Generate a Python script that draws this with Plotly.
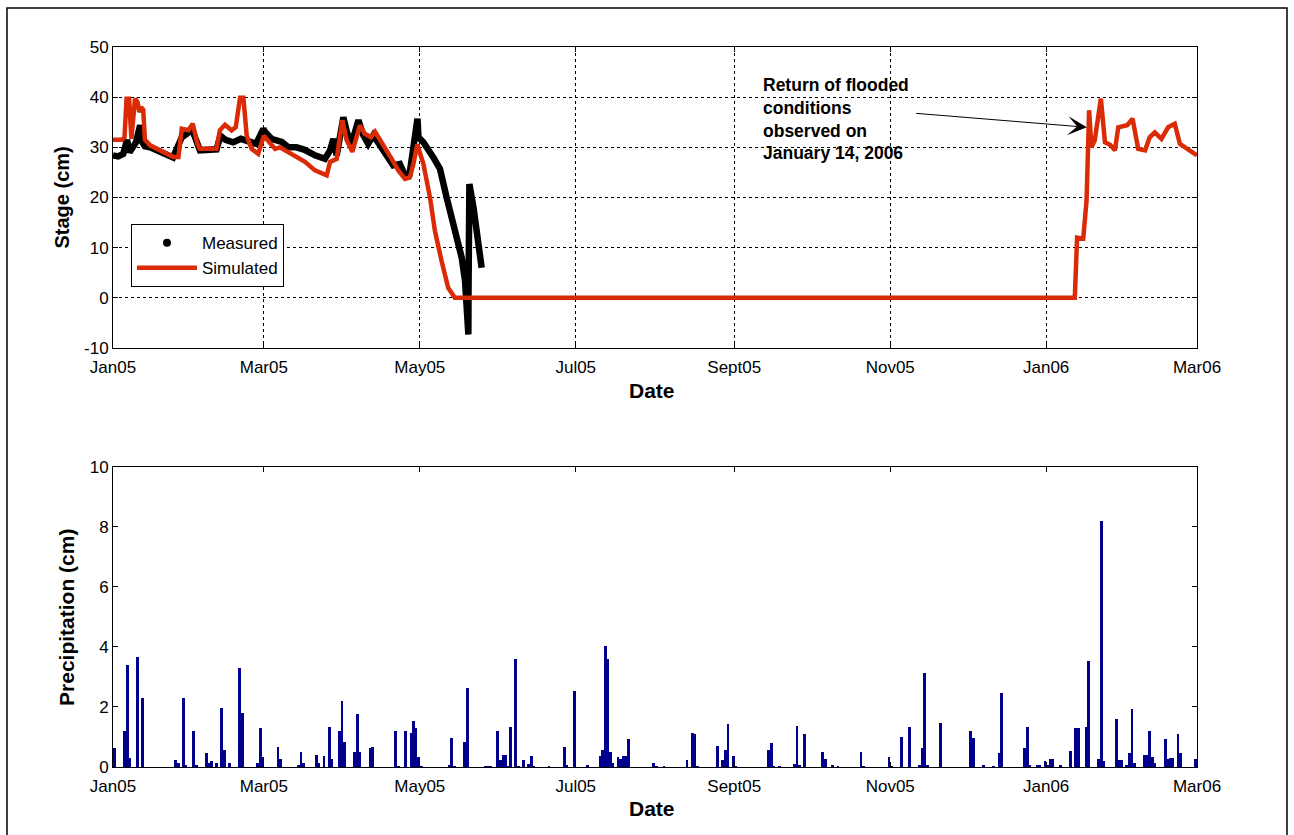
import pandas as pd
import plotly.graph_objects as go

# Record start; all series below are given as day offsets from this date
START = pd.Timestamp("2005-01-01")

# Measured stage (day offset, cm)
measured_pts = [
    (0, 28.4), (2, 28.2), (4, 28.7), (5, 30.0), (5.5, 31.5), (6.5, 29.0), (8, 30.0),
    (9, 31.0), (10.6, 34.4), (11.5, 31.0), (12.5, 30.2), (14.5, 30.0), (23.5, 28.0),
    (26.9, 32.0), (31, 33.5), (33, 30.4), (34, 29.4), (40.5, 29.6), (42, 32.3),
    (44, 31.5), (47, 31.0), (50, 31.7), (53, 31.2), (56, 30.7), (58.8, 33.7),
    (59.4, 33.1), (62, 31.7), (66, 31.1), (68.6, 30.0), (71.8, 30.0), (75, 29.5),
    (79, 28.4), (82.9, 27.7), (84.9, 29.4), (86.2, 31.7), (87.5, 28.4), (90.1, 36.0),
    (91.5, 33.0), (93.3, 30.7), (96, 35.4), (97.9, 32.4), (99.8, 30.7), (101.8, 32.4),
    (104.4, 30.4), (107, 28.7), (109.6, 26.4), (112.2, 26.7), (114.2, 24.4),
    (116, 24.7), (118.1, 31.4), (119.1, 35.7), (119.5, 32.0), (121.4, 31.0),
    (125.3, 28.0), (127.9, 25.7), (130.5, 20.0), (133.1, 14.7), (135, 12.0),
    (136.4, 8.0), (137.7, 3.4), (138.3, -3.3), (139, -7.3), (139.05, 0.8),
    (139.1, 8.0), (139.15, 14.0), (139.2, 16.3), (139.4, 22.7), (141, 18.0),
    (142.5, 12.0), (144.2, 6.0),
]

# Simulated stage (day offset, cm)
simulated_pts = [
    (0, 31.5), (3.5, 31.5), (4.5, 32.0), (5.3, 39.7), (6.3, 39.7), (7.2, 31.7),
    (8.6, 39.7), (9.6, 39.0), (10.3, 37.0), (11.0, 38.0), (11.8, 37.5), (12.5, 31.5),
    (14.5, 30.4), (23.5, 28.1), (25.6, 28.1), (26.9, 33.7), (29.5, 33.4), (31.2, 34.7),
    (33.0, 30.7), (34.0, 29.7), (40.5, 29.7), (41.8, 33.4), (43.8, 34.5), (46.4, 33.4),
    (48.0, 34.0), (49.7, 39.9), (51.0, 39.9), (52.3, 32.3), (54.2, 29.7), (56.8, 28.7),
    (59.0, 32.3), (63.4, 29.7), (65.3, 30.0), (67.3, 29.4), (72.5, 27.7), (75.1, 27.1),
    (79.0, 25.4), (83.6, 24.4), (84.9, 27.1), (87.5, 27.7), (89.7, 35.4), (91.4, 31.4),
    (93.6, 29.1), (96.6, 34.4), (98.5, 32.7), (100.9, 32.0), (102.5, 33.1),
    (105.1, 31.1), (109.0, 27.7), (111.6, 25.4), (114.2, 23.7), (116.1, 24.0),
    (117.5, 26.7), (119.0, 30.6), (121.4, 26.7), (124.0, 20.0), (125.9, 13.4),
    (128.5, 7.4), (131.1, 2.0), (133.7, 0.0), (376.2, 0.0), (377.1, 12.0),
    (379.5, 11.8), (380.8, 19.4), (381.8, 37.4), (382.7, 30.0), (384.0, 31.4),
    (386.4, 39.7), (388.0, 31.0), (390.0, 30.5), (391.9, 29.4), (393.2, 34.0),
    (396.7, 34.4), (398.8, 35.7), (401.0, 29.7), (403.7, 29.4), (405.5, 32.0),
    (407.5, 33.0), (410.1, 31.7), (412.7, 34.0), (415.3, 34.7), (417.3, 30.7),
    (419.9, 29.7), (424.0, 28.4),
]

# Daily precipitation (day offset, cm)
precip_pts = [
    (0, 0.62), (4, 1.21), (5, 3.40), (6, 0.30), (9, 3.66), (11, 2.31),
    (24, 0.25), (25, 0.15), (27, 2.31), (28, 0.04),
    (31, 1.19), (32, 0.05), (36, 0.46), (37, 0.12), (38, 0.20), (40, 0.12),
    (42, 1.96), (43, 0.57), (45, 0.12), (49, 3.29), (50, 1.79),
    (56, 0.12), (57, 1.29), (58, 0.34), (64, 0.68), (65, 0.26),
    (72, 0.05), (73, 0.49), (74, 0.15), (79, 0.40), (80, 0.12), (82, 0.37),
    (84, 1.34), (85, 0.28), (88, 1.19), (89, 2.21), (90, 0.85),
    (94, 0.49), (95, 1.77), (96, 0.49), (100, 0.62), (101, 0.68),
    (110, 1.19), (111, 0.03), (114, 1.19), (116, 1.12), (117, 1.54), (118, 1.29),
    (119, 0.34), (120, 0.03),
    (131, 0.05), (132, 0.96), (133, 0.03), (137, 0.82), (138, 2.64),
    (145, 0.02), (146, 0.02), (147, 0.02),
    (150, 1.19), (151, 0.22), (152, 0.40), (153, 0.40), (154, 0.03), (155, 1.32),
    (157, 3.60), (158, 0.03),
    (160, 0.22), (162, 0.11), (163, 0.37), (164, 0.03), (170, 0.03),
    (176, 0.68), (177, 0.05), (180, 2.54), (185, 0.06),
    (190, 0.37), (191, 0.57), (192, 4.03), (193, 3.60), (194, 0.49), (195, 0.15),
    (197, 0.34), (198, 0.28), (199, 0.37), (200, 0.37), (201, 0.92),
    (211, 0.12), (212, 0.02), (215, 0.02),
    (224, 0.22), (226, 1.12), (227, 1.09), (228, 0.03),
    (236, 0.70), (238, 0.22), (239, 0.57), (240, 1.42), (242, 0.37), (243, 0.03),
    (256, 0.57), (257, 0.79), (258, 0.03), (260, 0.02),
    (266, 0.11), (267, 1.37), (268, 0.06), (270, 1.09),
    (277, 0.49), (278, 0.26), (281, 0.06), (283, 0.02),
    (292, 0.49), (293, 0.03), (303, 0.34), (304, 0.03),
    (308, 0.99), (311, 1.34), (315, 0.06), (316, 0.62), (317, 3.14), (318, 0.06),
    (323, 1.48), (335, 1.19), (336, 0.96),
    (340, 0.05), (344, 0.03), (346, 0.46), (347, 2.46),
    (356, 0.62), (357, 1.34), (358, 0.05), (361, 0.05), (362, 0.05), (364, 0.20),
    (365, 0.05), (366, 0.26), (367, 0.26), (370, 0.05), (374, 0.54), (376, 1.31),
    (377, 1.31), (380, 1.34), (381, 3.53), (385, 0.28), (386, 8.20), (387, 0.20),
    (392, 1.59), (393, 0.23), (394, 0.23), (396, 0.05), (397, 0.46), (398, 1.92),
    (399, 0.14), (403, 0.41), (404, 0.41), (405, 1.20), (406, 0.34), (407, 0.12),
    (411, 0.94), (412, 0.26), (413, 0.30), (414, 0.30), (416, 1.09), (417, 0.48),
    (423, 0.28),
]

tick_dates = ["2005-01-01", "2005-03-01", "2005-05-01", "2005-07-01",
              "2005-09-01", "2005-11-01", "2006-01-01", "2006-03-01"]
tick_text = ["Jan05", "Mar05", "May05", "Jul05", "Sept05", "Nov05", "Jan06", "Mar06"]
stage_ticks = [-10, 0, 10, 20, 30, 40, 50]
precip_ticks = [0, 2, 4, 6, 8, 10]

# Annotated event: return of flooded conditions
note_text = "Return of flooded<br>conditions<br>observed on<br>January 14, 2006"
note_day, note_stage = 253.5, 35.7
arrow_tail = (313.6, 36.8)
arrow_head = (380.9, 34.0)


def to_dates(days):
    return [START + pd.Timedelta(days=float(d)) for d in days]


def split(pts):
    return [p[0] for p in pts], [p[1] for p in pts]


meas_day, meas_val = split(measured_pts)
sim_day, sim_val = split(simulated_pts)
rain_day, rain_val = split(precip_pts)

FONT = "Liberation Sans, Arial, sans-serif"
RED = "rgb(218,42,6)"
NAVY = "rgb(0,0,140)"
DAY_MS = 86400000

fig = go.Figure()

fig.add_trace(go.Scatter(
    x=to_dates(meas_day), y=meas_val, mode="lines",
    line=dict(color="black", width=6.5),
    showlegend=False, xaxis="x", yaxis="y",
))
fig.add_trace(go.Scatter(
    x=[None], y=[None], mode="markers", name="Measured",
    marker=dict(color="black", size=8), xaxis="x", yaxis="y",
))
fig.add_trace(go.Scatter(
    x=to_dates(sim_day), y=sim_val, mode="lines", name="Simulated",
    line=dict(color=RED, width=4.5), xaxis="x", yaxis="y",
))
fig.add_trace(go.Bar(
    x=to_dates(rain_day), y=rain_val, width=1.1 * DAY_MS, offset=0,
    marker=dict(color=NAVY, line=dict(width=0)),
    showlegend=False, xaxis="x2", yaxis="y2",
))

x_range = [START, pd.Timestamp("2006-03-01")]
common_x = dict(
    type="date", range=x_range, tickmode="array", tickvals=tick_dates,
    ticktext=tick_text, ticks="inside", ticklen=5, tickcolor="black",
    showline=True, linecolor="black", linewidth=1, mirror="ticks",
    tickfont=dict(family=FONT, size=17, color="black"), zeroline=False,
    ticklabelstandoff=4,
)
common_y = dict(
    ticks="inside", ticklen=5, tickcolor="black", showline=True,
    linecolor="black", linewidth=1, mirror="ticks", zeroline=False,
    tickfont=dict(family=FONT, size=17, color="black"), tickmode="array",
)

fig.update_layout(
    width=1294, height=835,
    margin=dict(l=113, r=97, t=47, b=68),
    paper_bgcolor="white", plot_bgcolor="white",
    template="none",
    font=dict(family=FONT, size=17, color="black"),
    xaxis=dict(**common_x, domain=[0, 1], anchor="y", showgrid=True,
               gridcolor="black", griddash="dot", gridwidth=1),
    yaxis=dict(**common_y, domain=[0.5819, 1], anchor="x", range=[-10, 50],
               tickvals=stage_ticks, ticktext=[str(v) for v in stage_ticks],
               showgrid=True, gridcolor="black", griddash="dot", gridwidth=1),
    xaxis2=dict(**common_x, domain=[0, 1], anchor="y2", showgrid=False),
    yaxis2=dict(**common_y, domain=[0, 0.41667], anchor="x2", range=[0, 10],
                tickvals=precip_ticks, ticktext=[str(v) for v in precip_ticks],
                showgrid=False),
    legend=dict(x=0.0166, y=0.754, xanchor="left", yanchor="top",
                bgcolor="white", bordercolor="black", borderwidth=1,
                font=dict(family=FONT, size=17, color="black"),
                itemwidth=60, tracegroupgap=0),
    bargap=0,
)

# Axis titles
titles = [
    ("<b>Stage (cm)</b>", -0.047, 0.791, -90, 20),
    ("<b>Date</b>", 0.497, 0.5236, 0, 21),
    ("<b>Precipitation (cm)</b>", -0.0434, 0.2083, -90, 21),
    ("<b>Date</b>", 0.497, -0.0583, 0, 21),
]
for text, x, y, ang, size in titles:
    fig.add_annotation(text=text, x=x, y=y, xref="paper", yref="paper",
                       showarrow=False, textangle=ang, xanchor="center",
                       yanchor="middle",
                       font=dict(family=FONT, size=size, color="black"))

# Event note and arrow
fig.add_annotation(
    text="<b>" + note_text + "</b>", x=to_dates([note_day])[0], y=note_stage,
    xref="x", yref="y", showarrow=False, xanchor="left", yanchor="middle",
    align="left", font=dict(family=FONT, size=17.5, color="black"),
)
fig.add_annotation(
    text="", x=to_dates([arrow_head[0]])[0], y=arrow_head[1],
    ax=to_dates([arrow_tail[0]])[0], ay=arrow_tail[1], axref="x", ayref="y",
    xref="x", yref="y", showarrow=True, arrowhead=3, arrowsize=3.2,
    arrowwidth=1, arrowcolor="black",
)

# Outer frame around the whole figure
fig.add_shape(type="rect", xref="paper", yref="paper",
              x0=(7 - 113) / 1084, x1=(1287 - 113) / 1084,
              y0=(767 - 850) / 720, y1=(767 - 8) / 720,
              line=dict(color="black", width=1.5), fillcolor="rgba(0,0,0,0)")

fig.write_html("out.html")
